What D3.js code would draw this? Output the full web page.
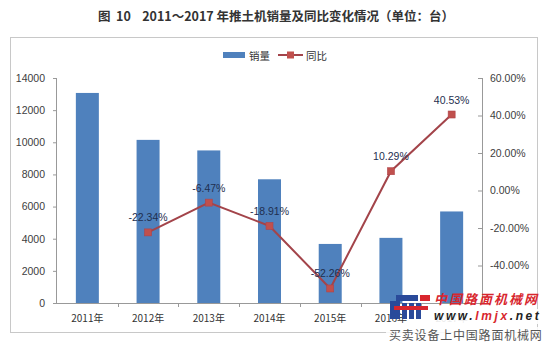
<!DOCTYPE html>
<html>
<head>
<meta charset="utf-8">
<script src="https://cdn.jsdelivr.net/npm/d3@7"></script>
<style>
  html, body { margin: 0; padding: 0; background: #fff; }
  svg { display: block; }
  .pre { white-space: pre; }
</style>
</head>
<body>
<svg id="chart" width="552" height="342"></svg>
<script>
// Bulldozer sales 2011–2017 and year-on-year change
const years = ["2011年", "2012年", "2013年", "2014年", "2015年", "2016年", "2017年"];
const sales = [13070, 10150, 9493, 7698, 3675, 4053, 5696];
const yoy = [null, -22.34, -6.47, -18.91, -52.26, 10.29, 40.53];
const leftTicks = [0, 2000, 4000, 6000, 8000, 10000, 12000, 14000];
const rightTicks = [-40, -20, 0, 20, 40, 60];

const svg = d3.select("#chart");
const plot = { left: 57, right: 482, top: 78, bottom: 303 };

const cjk = "'Noto Sans CJK SC', 'Noto Sans', sans-serif";
const latin = "'Liberation Sans', Arial, sans-serif";

// title
svg.append("text").attr("class", "pre")
  .attr("x", 276).attr("y", 21)
  .attr("text-anchor", "middle")
  .attr("font-family", cjk).attr("font-size", 12.5).attr("font-weight", "bold")
  .attr("fill", "#333")
  .text("图  10    2011～2017 年推土机销量及同比变化情况（单位：台）");

// chart frame
svg.append("rect")
  .attr("x", 10.5).attr("y", 37.5).attr("width", 527).attr("height", 295)
  .attr("fill", "none").attr("stroke", "#c8c8c8").attr("stroke-width", 1);

const xBand = d3.scaleBand().domain(years).range([plot.left, plot.right]);
const yL = d3.scaleLinear().domain([0, 14000]).range([plot.bottom, plot.top]);
const yR = d3.scaleLinear().domain([-60, 60]).range([plot.bottom, plot.top]);

// bars
svg.append("g").selectAll("rect").data(years).join("rect")
  .attr("x", (d) => xBand(d) + xBand.bandwidth() / 2 - 11.5)
  .attr("width", 23)
  .attr("y", (d, i) => yL(sales[i]))
  .attr("height", (d, i) => yL(0) - yL(sales[i]))
  .attr("fill", "#4f81bd");

// left axis
const gL = svg.append("g").attr("transform", `translate(${plot.left},0)`)
  .call(d3.axisLeft(yL).tickValues(leftTicks).tickSize(4).tickPadding(8).tickFormat(d3.format("d")));
gL.select(".domain").attr("stroke", "#999").attr("d", `M-0.5,${plot.top}V${plot.bottom}`);
gL.selectAll(".tick line").attr("stroke", "#999");
gL.selectAll("text").attr("font-family", latin).attr("font-size", 10.5).attr("fill", "#404040");

// right axis
const gR = svg.append("g").attr("transform", `translate(${plot.right},0)`)
  .call(d3.axisRight(yR).tickValues(rightTicks).tickSize(0).tickPadding(8).tickFormat((d) => d.toFixed(2) + "%"));
gR.select(".domain").attr("stroke", "#999").attr("d", `M0.5,${plot.top}V${plot.bottom}`);
gR.selectAll(".tick").append("line").attr("x1", -4).attr("x2", 0).attr("stroke", "#999");
gR.selectAll("text").attr("font-family", latin).attr("font-size", 10.5).attr("fill", "#404040");

// bottom axis
const gB = svg.append("g").attr("transform", `translate(0,${plot.bottom})`)
  .call(d3.axisBottom(xBand).tickSize(0).tickPadding(12));
gB.select(".domain").attr("stroke", "#999").attr("d", `M${plot.left - 4},0.5H${plot.right}`);
gB.selectAll(".tick text").attr("font-family", cjk).attr("font-size", 10).attr("fill", "#333");
// boundary ticks between categories
gB.selectAll(".bound").data(years.slice(1)).join("line")
  .attr("class", "bound")
  .attr("x1", (d) => Math.round(xBand(d)) + 0.5).attr("x2", (d) => Math.round(xBand(d)) + 0.5)
  .attr("y1", 0).attr("y2", 4).attr("stroke", "#999");

// yoy line
const pts = years.map((d, i) => ({ d, v: yoy[i] })).filter((p) => p.v !== null);
const cx = (p) => xBand(p.d) + xBand.bandwidth() / 2;
svg.append("path").datum(pts)
  .attr("fill", "none").attr("stroke", "#a3444a").attr("stroke-width", 2)
  .attr("d", d3.line().x(cx).y((p) => yR(p.v)));
svg.append("g").selectAll("rect").data(pts).join("rect")
  .attr("x", (p) => cx(p) - 3.5).attr("y", (p) => yR(p.v) - 3.5)
  .attr("width", 7).attr("height", 7)
  .attr("fill", "#c0504d").attr("stroke", "#b0434a").attr("stroke-width", 0.6);
svg.append("g").selectAll("text").data(pts).join("text")
  .attr("x", cx).attr("y", (p) => yR(p.v) - 11)
  .attr("text-anchor", "middle")
  .attr("font-family", latin).attr("font-size", 10.5).attr("fill", "#1f2f4f")
  .text((p) => p.v.toFixed(2) + "%");

// legend
const lg = svg.append("g");
lg.append("rect").attr("x", 223).attr("y", 52).attr("width", 22).attr("height", 6).attr("fill", "#4f81bd");
lg.append("text").attr("x", 249).attr("y", 59.5).attr("font-family", cjk).attr("font-size", 10.5).attr("fill", "#333").text("销量");
lg.append("line").attr("x1", 278).attr("x2", 303).attr("y1", 55).attr("y2", 55).attr("stroke", "#a3444a").attr("stroke-width", 2);
lg.append("rect").attr("x", 287).attr("y", 51.5).attr("width", 7).attr("height", 7).attr("fill", "#c0504d");
lg.append("text").attr("x", 306).attr("y", 59.5).attr("font-family", cjk).attr("font-size", 10.5).attr("fill", "#333").text("同比");

// site mark, lower right
const wm = svg.append("g");
wm.append("rect").attr("x", 386).attr("y", 327).attr("width", 166).attr("height", 15).attr("fill", "#fff").attr("opacity", 0.85);
wm.append("rect").attr("x", 430).attr("y", 309).attr("width", 120).attr("height", 15).attr("fill", "#fff").attr("opacity", 0.9);
const logo = wm.append("g").attr("transform", "translate(390,295)");
logo.append("rect").attr("x", 6).attr("y", 0).attr("width", 22).attr("height", 6).attr("fill", "#2a4a9a");
logo.append("rect").attr("x", 0).attr("y", 6).attr("width", 10).attr("height", 18).attr("fill", "#2a4a9a");
logo.append("rect").attr("x", 12).attr("y", 8).attr("width", 5).attr("height", 16).attr("fill", "#2a4a9a");
logo.append("rect").attr("x", 19).attr("y", 8).attr("width", 5).attr("height", 16).attr("fill", "#2a4a9a");
logo.append("rect").attr("x", 26).attr("y", 8).attr("width", 5).attr("height", 16).attr("fill", "#2a4a9a");
logo.append("rect").attr("x", 4).attr("y", 11).attr("width", 34).attr("height", 4).attr("fill", "#d8262e");
logo.append("rect").attr("x", 30).attr("y", 0).attr("width", 10).attr("height", 6).attr("fill", "#d8262e");
wm.append("text").attr("x", 434).attr("y", 304)
  .attr("font-family", cjk).attr("font-size", 13).attr("font-weight", "bold").attr("font-style", "italic")
  .attr("fill", "#d8262e").attr("letter-spacing", 2).text("中国路面机械网");
const www = wm.append("text").attr("x", 434).attr("y", 320)
  .attr("font-family", latin).attr("font-size", 12).attr("font-weight", "bold").attr("font-style", "italic")
  .attr("letter-spacing", 2.6);
www.append("tspan").attr("fill", "#222").text("www.");
www.append("tspan").attr("fill", "#d8262e").text("lmjx");
www.append("tspan").attr("fill", "#222").text(".net");
wm.append("text").attr("x", 389).attr("y", 339.5)
  .attr("font-family", cjk).attr("font-size", 12).attr("letter-spacing", 0.8).attr("fill", "#555").text("买卖设备上中国路面机械网");
</script>
</body>
</html>
